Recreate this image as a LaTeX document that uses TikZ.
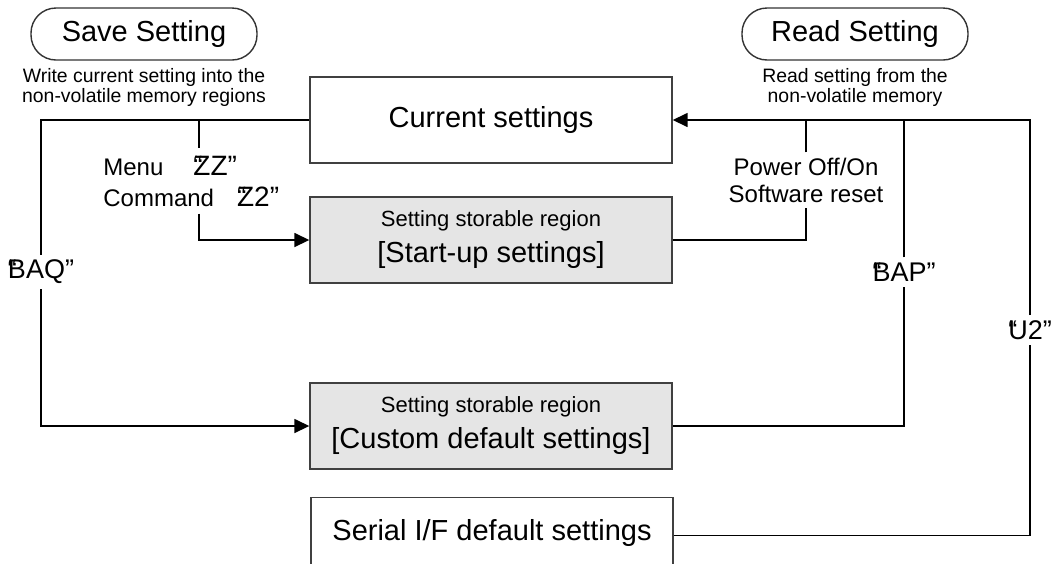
\documentclass[tikz,border=0pt]{standalone}
\usepackage{fontspec}
\setmainfont{Liberation Sans}
\usetikzlibrary{arrows.meta}
\newcommand{\quoted}[1]{\rlap{“}#1”}

\begin{document}
\begin{tikzpicture}[
			x=0.5pt, y=-0.5pt,
			box/.style={draw=black!75, line width=0.7pt, minimum width=181pt, minimum height=43pt, inner sep=0pt, align=center, font=\fontsize{14.5}{16}\selectfont},
			store/.style={box, fill=black!10},
			title/.style={draw=black!80, line width=0.7pt, rounded corners=12.5pt, minimum width=113pt, minimum height=26pt, inner sep=0pt, font=\fontsize{14.5}{16}\selectfont},
			note/.style={align=center, inner sep=0pt, font=\fontsize{9.7}{10}\selectfont},
			cmd/.style={inner sep=2.5pt, align=center, font=\fontsize{13.5}{15}\selectfont},
			small/.style={inner sep=2pt, font=\fontsize{12}{13.5}\selectfont},
			line/.style={draw, line width=0.8pt},
			arrow/.style={line, -{Triangle[length=7.5pt,width=7pt]}}
			]
			\useasboundingbox (0,0) rectangle (1063,563);
			\clip (0,0) rectangle (1063,563);
			% headers
			\node[title] (save) at (144,34) {Save Setting};
			\node[title] (read) at (855,34) {Read Setting};
			\node[note] (savenote) at (144,87) {Write current setting into the\\non-volatile memory regions};
			\node[note] (readnote) at (855,87) {Read setting from the\\non-volatile memory};
			% setting regions
			\node[box] (cur) at (491,120) {Current settings};
			\node[store] (start) at (491,240) {{\fontsize{11}{13}\selectfont Setting storable region}\\[2pt]{[Start-up settings]}};
			\node[store] (cust) at (491,426) {{\fontsize{11}{13}\selectfont Setting storable region}\\[2pt]{[Custom default settings]}};
			\node[box, anchor=north, minimum height=0pt, text height=21.5pt, text depth=25pt] (ser) at (492,497) {Serial I/F default settings};
			% labels on the lines
			\node[small, align=left, anchor=west, inner ysep=3.5pt] (menu) at (99,181) {Menu\hspace*{15pt}{\fontsize{14}{15}\selectfont\quoted{ZZ}}\\[2pt]Command\hspace*{11.5pt}{\fontsize{14}{15}\selectfont\quoted{Z2}}};
			\node[small, align=center, inner ysep=2.5pt] (pwr) at (806,180) {Power Off/On\\Software reset};
			\node[cmd] (baq) at (41,272) {\quoted{BAQ}};
			\node[cmd] (bap) at (904,272) {\quoted{BAP}};
			\node[cmd] (u2) at (1030,330) {\quoted{U2}};
			\coordinate (tap) at (199,120);
			% save
			\draw[line] (cur.west) -| (baq.north);
			\draw[arrow] (baq.south) |- (cust.west);
			\draw[line] (tap) -- (tap |- menu.north);
			\draw[arrow] (tap |- menu.south) |- (start.west);
			% read
			\draw[line] (start.east) -| (pwr.south);
			\draw[line] (pwr.north) -- (pwr.north |- cur.east);
			\draw[line] (cust.east) -| (bap.south);
			\draw[line] (bap.north) -- (bap.north |- cur.east);
			\draw[line] (ser.mid east) -| (u2.south);
			\draw[arrow] (u2.north) |- (cur.east);
\end{tikzpicture}
\end{document}
